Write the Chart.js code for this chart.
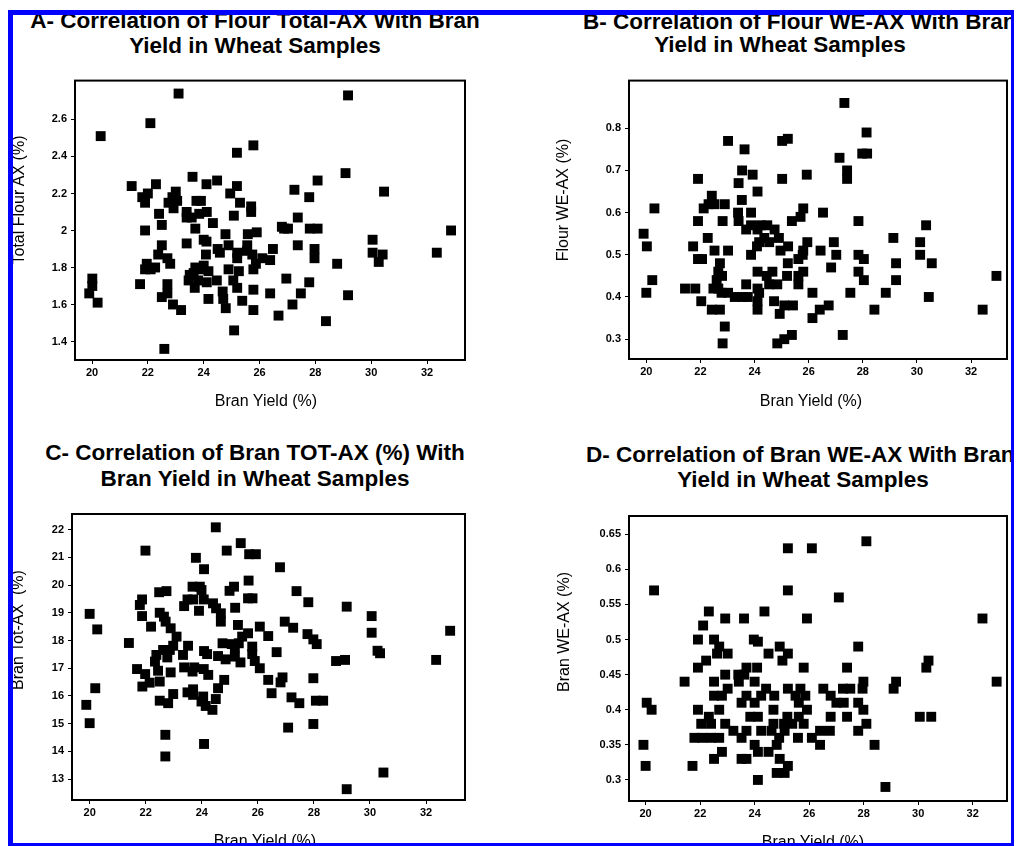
<!DOCTYPE html>
<html>
<head>
<meta charset="utf-8">
<title>Bran yield correlations</title>
<script src="https://cdn.jsdelivr.net/npm/chart.js@4.4.1/dist/chart.umd.min.js"></script>
<style>
  html, body { margin: 0; padding: 0; background: #fff; overflow: hidden; }
  body { width: 1016px; height: 846px; position: relative; font-family: "Liberation Sans", Arial, sans-serif; color: #000; }
  canvas { position: absolute; }
  .title { position: absolute; font-weight: bold; font-size: 22.5px; line-height: 1; white-space: nowrap; transform: translate(-50%, -50%); }
  .title.left { transform: translate(0, -50%); }
  .axt { position: absolute; font-size: 16px; line-height: 1; white-space: pre; transform: translate(-50%, -50%); }
  .axt.rot { transform: translate(-50%, -50%) rotate(-90deg); }
  .mask { position: absolute; background: #fff; z-index: 5; }
  .blue { position: absolute; background: #0000ff; z-index: 6; }
</style>
</head>
<body>

<canvas id="chartA" width="480" height="340" style="left:0;top:70px"></canvas>
<canvas id="chartB" width="514" height="340" style="left:500px;top:70px"></canvas>
<canvas id="chartC" width="480" height="346" style="left:0;top:500px"></canvas>
<canvas id="chartD" width="514" height="346" style="left:500px;top:500px"></canvas>

<div class="title" style="left:255px;top:21px">A- Correlation of Flour Total-AX With Bran</div>
<div class="title" style="left:255px;top:46px">Yield in Wheat Samples</div>
<div class="title left" style="left:583px;top:22px">B- Correlation of Flour WE-AX With Bran</div>
<div class="title" style="left:780px;top:45px">Yield in Wheat Samples</div>
<div class="title" style="left:255px;top:453px">C- Correlation of Bran TOT-AX (%) With</div>
<div class="title" style="left:255px;top:479px">Bran Yield in Wheat Samples</div>
<div class="title left" style="left:586px;top:455px">D- Correlation of Bran WE-AX With Bran</div>
<div class="title" style="left:803px;top:480px">Yield in Wheat Samples</div>

<div class="axt" style="left:266px;top:401px">Bran Yield (%)</div>
<div class="axt" style="left:811px;top:401px">Bran Yield (%)</div>
<div class="axt" style="left:265px;top:841px">Bran Yield (%)</div>
<div class="axt" style="left:813px;top:842px">Bran Yield (%)</div>
<div class="axt rot" style="left:19px;top:200px">Total Flour AX (%)</div>
<div class="axt rot" style="left:563px;top:200px">Flour WE-AX (%)</div>
<div class="axt rot" style="left:18px;top:630px">Bran Tot-AX  (%)</div>
<div class="axt rot" style="left:564px;top:632px">Bran WE-AX (%)</div>

<div class="mask" style="left:0;top:0;width:1016px;height:10px"></div>
<div class="mask" style="left:0;top:0;width:8px;height:846px"></div>
<div class="mask" style="left:1014px;top:0;width:2px;height:846px"></div>
<div class="blue" style="left:8px;top:10px;width:1006px;height:5px"></div>
<div class="blue" style="left:8px;top:10px;width:5px;height:836px"></div>
<div class="blue" style="left:1011px;top:10px;width:3px;height:836px"></div>
<div class="blue" style="left:8px;top:843px;width:1006px;height:3px"></div>

<script>
// tick values
const branYieldTicks = [20, 22, 24, 26, 28, 30, 32];
const flourTotalTicks = [1.4, 1.6, 1.8, 2, 2.2, 2.4, 2.6];
const flourWETicks = [0.3, 0.4, 0.5, 0.6, 0.7, 0.8];
const branTotTicks = [13, 14, 15, 16, 17, 18, 19, 20, 21, 22];
const branWETicks = [0.3, 0.35, 0.4, 0.45, 0.5, 0.55, 0.6, 0.65];

// A - flour total AX vs bran yield
const branYieldA = [23.10, 29.17, 22.09, 20.31, 25.78, 25.19, 29.08, 23.60, 28.08, 24.48, 24.10, 21.42, 22.29, 25.19, 27.25, 30.46,
  23.00, 22.00, 21.80, 21.90, 22.88, 22.74, 22.92, 23.05, 27.78, 24.95, 25.30, 23.74, 23.90, 25.70, 25.70, 22.40,
  24.11, 23.84, 23.39, 23.39, 27.37, 25.08, 24.33, 22.50, 23.57, 26.80, 27.02, 26.88, 27.80, 28.08, 21.90, 32.86,
  23.70, 25.90, 25.58, 24.78, 24.00, 30.05, 23.39, 27.37, 24.89, 25.56, 22.50, 24.10, 24.50, 26.48, 27.97, 22.37,
  22.70, 22.80, 24.08, 24.58, 30.05, 30.41, 30.27, 32.35, 25.20, 25.20, 25.55, 25.74, 27.97, 26.10, 26.38, 25.87,
  28.78, 21.96, 21.90, 22.26, 22.10, 25.78, 24.89, 25.26, 23.70, 24.00, 23.64, 23.88, 24.17, 23.50, 23.46, 23.80,
  24.11, 24.47, 23.68, 25.06, 25.20, 20.01, 20.01, 19.90, 20.20, 21.72, 22.70, 22.70, 22.50, 26.96, 27.78, 25.78,
  26.38, 27.48, 24.68, 24.70, 24.17, 25.38, 29.17, 22.90, 27.18, 23.19, 24.79, 25.78, 26.68, 28.38, 25.09, 22.59];
const flourTotalAX = [2.74, 2.73, 2.58, 2.51, 2.46, 2.42, 2.31, 2.29, 2.27, 2.27, 2.25, 2.24, 2.25, 2.24, 2.22, 2.21,
  2.21, 2.20, 2.18, 2.15, 2.18, 2.15, 2.12, 2.16, 2.18, 2.20, 2.15, 2.16, 2.16, 2.13, 2.10, 2.09,
  2.10, 2.09, 2.10, 2.07, 2.07, 2.08, 2.04, 2.03, 2.07, 2.02, 2.01, 2.01, 2.01, 2.01, 2.00, 2.00,
  2.01, 1.99, 1.98, 1.98, 1.95, 1.95, 1.93, 1.92, 1.92, 1.92, 1.92, 1.94, 1.90, 1.90, 1.90, 1.87,
  1.85, 1.82, 1.87, 1.88, 1.88, 1.87, 1.83, 1.88, 1.88, 1.85, 1.89, 1.87, 1.85, 1.85, 1.84, 1.82,
  1.82, 1.82, 1.79, 1.80, 1.79, 1.79, 1.79, 1.78, 1.80, 1.81, 1.77, 1.79, 1.78, 1.76, 1.73, 1.73,
  1.72, 1.73, 1.69, 1.73, 1.69, 1.74, 1.70, 1.66, 1.61, 1.71, 1.71, 1.66, 1.64, 1.74, 1.72, 1.68,
  1.66, 1.66, 1.67, 1.63, 1.63, 1.62, 1.65, 1.60, 1.60, 1.57, 1.58, 1.57, 1.54, 1.51, 1.46, 1.36];

// B - flour WE-AX vs bran yield
const branYieldB = [27.32, 28.14, 23.02, 25.02, 25.23, 23.63, 27.98, 28.16, 27.14, 23.54, 27.42, 27.42, 23.93, 25.93, 21.91, 25.02,
  23.41, 24.11, 23.53, 22.42, 22.52, 22.30, 22.90, 22.12, 20.30, 25.80, 25.70, 25.38, 26.53, 23.39, 23.87, 23.41,
  21.91, 22.82, 27.84, 23.69, 23.87, 24.23, 24.47, 24.74, 24.11, 30.34, 19.90, 24.90, 24.36, 24.17, 24.54, 22.27,
  29.13, 25.95, 26.93, 30.12, 20.02, 21.73, 25.24, 22.52, 23.02, 24.96, 25.80, 26.44, 24.09, 23.87, 27.02, 27.84,
  30.12, 25.78, 21.91, 22.06, 28.04, 22.72, 25.23, 29.23, 30.55, 25.62, 26.83, 22.66, 24.11, 24.66, 25.80, 27.84,
  22.80, 22.60, 24.45, 25.20, 25.62, 32.94, 20.22, 28.04, 29.23, 24.54, 24.84, 23.69, 25.62, 21.43, 21.81, 22.48,
  22.66, 24.11, 20.00, 22.78, 23.02, 26.14, 27.54, 28.85, 24.17, 23.27, 23.57, 23.75, 30.44, 22.03, 24.11, 24.72,
  24.11, 22.42, 22.72, 25.10, 25.42, 26.74, 26.41, 28.43, 32.43, 24.93, 26.14, 22.90, 27.26, 25.38, 25.10, 22.82, 24.84];
const flourWEAX = [0.86, 0.79, 0.77, 0.77, 0.775, 0.75, 0.74, 0.74, 0.73, 0.70, 0.70, 0.68, 0.69, 0.69, 0.68, 0.68,
  0.67, 0.65, 0.63, 0.64, 0.62, 0.62, 0.62, 0.61, 0.61, 0.61, 0.59, 0.58, 0.60, 0.60, 0.60, 0.58,
  0.58, 0.58, 0.58, 0.56, 0.57, 0.57, 0.57, 0.56, 0.56, 0.57, 0.55, 0.54, 0.54, 0.53, 0.53, 0.54,
  0.54, 0.53, 0.53, 0.53, 0.52, 0.52, 0.52, 0.51, 0.51, 0.51, 0.51, 0.51, 0.52, 0.50, 0.50, 0.50,
  0.50, 0.50, 0.49, 0.49, 0.49, 0.48, 0.48, 0.48, 0.48, 0.49, 0.47, 0.46, 0.46, 0.46, 0.46, 0.46,
  0.45, 0.44, 0.45, 0.45, 0.45, 0.45, 0.44, 0.44, 0.44, 0.43, 0.43, 0.43, 0.43, 0.42, 0.42, 0.42,
  0.42, 0.42, 0.41, 0.41, 0.41, 0.41, 0.41, 0.41, 0.41, 0.40, 0.40, 0.40, 0.40, 0.39, 0.39, 0.39,
  0.37, 0.37, 0.37, 0.38, 0.38, 0.38, 0.37, 0.37, 0.37, 0.36, 0.35, 0.33, 0.31, 0.31, 0.30, 0.29, 0.29];

// C - bran TOT-AX vs bran yield
const branYieldC = [24.50, 25.39, 21.99, 24.89, 25.69, 25.93, 23.79, 24.08, 26.79, 25.67, 23.67, 23.93, 23.99, 25.15, 24.99, 22.48,
  22.74, 27.38, 21.87, 21.79, 23.49, 23.69, 24.07, 25.65, 25.81, 27.80, 23.37, 24.40, 29.17, 25.19, 23.90, 24.51,
  24.68, 22.50, 20.00, 30.06, 21.87, 22.65, 22.71, 24.68, 26.96, 20.27, 22.19, 22.89, 25.29, 26.07, 27.26, 32.86,
  30.06, 25.65, 27.77, 26.37, 25.44, 23.10, 21.40, 27.98, 28.10, 24.74, 25.07, 25.32, 23.51, 22.98, 25.80, 25.18,
  22.86, 22.62, 30.27, 30.36, 24.08, 24.19, 26.67, 25.80, 23.33, 22.38, 24.58, 24.85, 25.18, 22.77, 28.79, 29.11,
  32.36, 25.89, 22.33, 25.38, 23.37, 23.73, 24.07, 26.07, 21.69, 23.67, 22.44, 21.98, 22.89, 24.23, 26.88, 27.98,
  26.81, 26.37, 24.80, 22.14, 22.50, 20.20, 21.88, 24.58, 22.98, 23.49, 23.69, 23.69, 26.49, 24.05, 27.20, 24.50,
  22.50, 23.99, 22.80, 24.14, 27.48, 28.07, 28.33, 19.88, 24.38, 20.00, 27.98, 27.08, 22.70, 24.08, 22.70, 30.48, 29.17];
const branTotAX = [22.08, 21.51, 21.24, 21.24, 21.11, 21.11, 20.98, 20.57, 20.64, 20.16, 19.94, 19.94, 19.82, 19.94, 19.79, 19.74,
  19.78, 19.78, 19.48, 19.28, 19.48, 19.48, 19.48, 19.52, 19.52, 19.38, 19.24, 19.34, 19.22, 19.18, 19.07, 19.16,
  18.98, 19.00, 18.96, 18.88, 18.88, 18.86, 18.68, 18.68, 18.68, 18.40, 18.50, 18.44, 18.56, 18.50, 18.46, 18.35,
  18.28, 18.26, 18.23, 18.16, 18.14, 18.14, 17.91, 18.04, 17.87, 17.90, 17.87, 17.90, 17.81, 17.81, 17.78, 17.74,
  17.66, 17.66, 17.63, 17.54, 17.62, 17.51, 17.58, 17.51, 17.48, 17.48, 17.44, 17.32, 17.42, 17.39, 17.26, 17.30,
  17.30, 17.26, 17.24, 17.21, 17.03, 17.03, 16.97, 17.00, 16.97, 16.88, 16.91, 16.79, 16.85, 16.76, 16.67, 16.64,
  16.49, 16.58, 16.58, 16.48, 16.52, 16.28, 16.34, 16.28, 16.07, 16.13, 16.24, 16.04, 16.10, 15.98, 15.95, 15.89,
  15.83, 15.80, 15.74, 15.64, 15.74, 15.83, 15.83, 15.68, 15.50, 15.02, 14.99, 14.86, 14.60, 14.27, 13.82, 13.24, 12.64];

// D - bran WE-AX vs bran yield
const branYieldD = [28.10, 25.22, 26.10, 20.31, 25.22, 27.09, 22.32, 24.36, 22.92, 23.61, 25.92, 32.36, 22.11, 21.92, 22.51, 23.97,
  24.12, 24.92, 22.70, 27.80, 22.62, 23.01, 24.51, 25.22, 25.02, 22.22, 30.38, 21.92, 23.70, 24.09, 25.80, 27.39,
  30.30, 22.92, 23.40, 23.62, 21.43, 22.51, 23.42, 24.00, 27.99, 29.19, 32.88, 23.01, 24.42, 25.22, 25.68, 26.52,
  27.24, 27.51, 27.96, 29.10, 22.51, 22.80, 23.70, 24.24, 24.72, 25.50, 25.86, 26.79, 20.04, 23.52, 24.00, 27.00,
  27.27, 27.80, 25.62, 20.22, 21.92, 22.70, 24.69, 25.92, 27.99, 22.32, 23.84, 24.12, 25.20, 25.62, 26.79, 27.39,
  30.06, 30.48, 22.04, 22.40, 22.92, 24.69, 25.08, 25.38, 25.80, 28.10, 23.22, 23.70, 24.24, 24.62, 25.10, 26.40,
  26.76, 27.80, 21.79, 22.08, 22.40, 22.70, 23.52, 24.90, 25.59, 26.10, 19.92, 24.00, 24.81, 26.40, 28.40, 24.12,
  24.51, 22.80, 22.51, 23.52, 23.70, 24.92, 20.00, 21.72, 25.22, 24.81, 25.10, 24.12, 28.80];
const branWEAX = [0.64, 0.63, 0.63, 0.57, 0.57, 0.56, 0.54, 0.54, 0.53, 0.53, 0.53, 0.53, 0.52, 0.50, 0.50, 0.50,
  0.497, 0.49, 0.49, 0.49, 0.48, 0.48, 0.48, 0.48, 0.47, 0.47, 0.47, 0.46, 0.46, 0.46, 0.46, 0.46,
  0.46, 0.45, 0.45, 0.45, 0.44, 0.44, 0.44, 0.44, 0.44, 0.44, 0.44, 0.43, 0.43, 0.43, 0.43, 0.43,
  0.43, 0.43, 0.43, 0.43, 0.42, 0.42, 0.42, 0.42, 0.42, 0.42, 0.42, 0.42, 0.41, 0.41, 0.41, 0.41,
  0.41, 0.41, 0.41, 0.40, 0.40, 0.40, 0.40, 0.40, 0.40, 0.39, 0.39, 0.39, 0.39, 0.39, 0.39, 0.39,
  0.39, 0.39, 0.38, 0.38, 0.38, 0.38, 0.38, 0.38, 0.38, 0.38, 0.37, 0.37, 0.37, 0.37, 0.37, 0.37,
  0.37, 0.37, 0.36, 0.36, 0.36, 0.36, 0.36, 0.36, 0.36, 0.36, 0.35, 0.35, 0.35, 0.35, 0.35, 0.34,
  0.34, 0.34, 0.33, 0.33, 0.33, 0.33, 0.32, 0.32, 0.32, 0.31, 0.31, 0.30, 0.29];

const tickFont = { family: '"Liberation Sans", Arial, sans-serif', size: 11, weight: 'bold' };

// box round the plot area
const framePlugin = {
  id: 'frame',
  afterDatasetsDraw(chart) {
    const a = chart.chartArea;
    const ctx = chart.ctx;
    ctx.save();
    ctx.strokeStyle = '#000';
    ctx.lineWidth = 2;
    ctx.strokeRect(a.left, a.top, a.right - a.left, a.bottom - a.top);
    ctx.restore();
  }
};

function tickList(values) {
  return scale => { scale.ticks = values.map(v => ({ value: v })); };
}

function scatterPanel(id, xs, ys, yTicks, box) {
  const points = xs.map((x, i) => ({ x: x, y: ys[i] }));
  return new Chart(document.getElementById(id), {
    type: 'scatter',
    data: {
      datasets: [{
        data: points,
        pointStyle: 'rect',
        pointRadius: 7,
        pointHoverRadius: 7,
        backgroundColor: '#000',
        borderWidth: 0,
        clip: false
      }]
    },
    options: {
      responsive: false,
      animation: false,
      events: [],
      layout: { padding: { top: box.padTop, right: box.padRight, left: 0, bottom: 0 } },
      plugins: { legend: { display: false }, tooltip: { enabled: false } },
      scales: {
        x: {
          type: 'linear',
          min: box.xMin,
          max: box.xMax,
          afterBuildTicks: tickList(branYieldTicks),
          afterFit: s => { s.height = box.xH; },
          border: { display: false },
          grid: { drawOnChartArea: false, tickLength: 4, color: '#000' },
          ticks: { color: '#000', font: tickFont, padding: 2, maxRotation: 0, autoSkip: false, callback: v => String(v) }
        },
        y: {
          type: 'linear',
          min: box.yMin,
          max: box.yMax,
          afterBuildTicks: tickList(yTicks),
          afterFit: s => { s.width = box.yW; },
          border: { display: false },
          grid: { drawOnChartArea: false, tickLength: 4, color: '#000' },
          ticks: { color: '#000', font: tickFont, padding: 4, autoSkip: false, callback: v => String(v) }
        }
      }
    },
    plugins: [framePlugin]
  });
}

scatterPanel('chartA', branYieldA, flourTotalAX, flourTotalTicks,
  { xMin: 19.39, xMax: 33.36, yMin: 1.30, yMax: 2.81, yW: 75, xH: 50, padTop: 10, padRight: 15 });
scatterPanel('chartB', branYieldB, flourWEAX, flourWETicks,
  { xMin: 19.36, xMax: 33.33, yMin: 0.253, yMax: 0.913, yW: 129, xH: 51, padTop: 10, padRight: 0 });
scatterPanel('chartC', branYieldC, branTotAX, branTotTicks,
  { xMin: 19.37, xMax: 33.39, yMin: 12.25, yMax: 22.56, yW: 72, xH: 46, padTop: 14, padRight: 15 });
scatterPanel('chartD', branYieldD, branWEAX, branWETicks,
  { xMin: 19.39, xMax: 33.26, yMin: 0.27, yMax: 0.676, yW: 129, xH: 45, padTop: 16, padRight: 0 });
</script>
</body>
</html>
